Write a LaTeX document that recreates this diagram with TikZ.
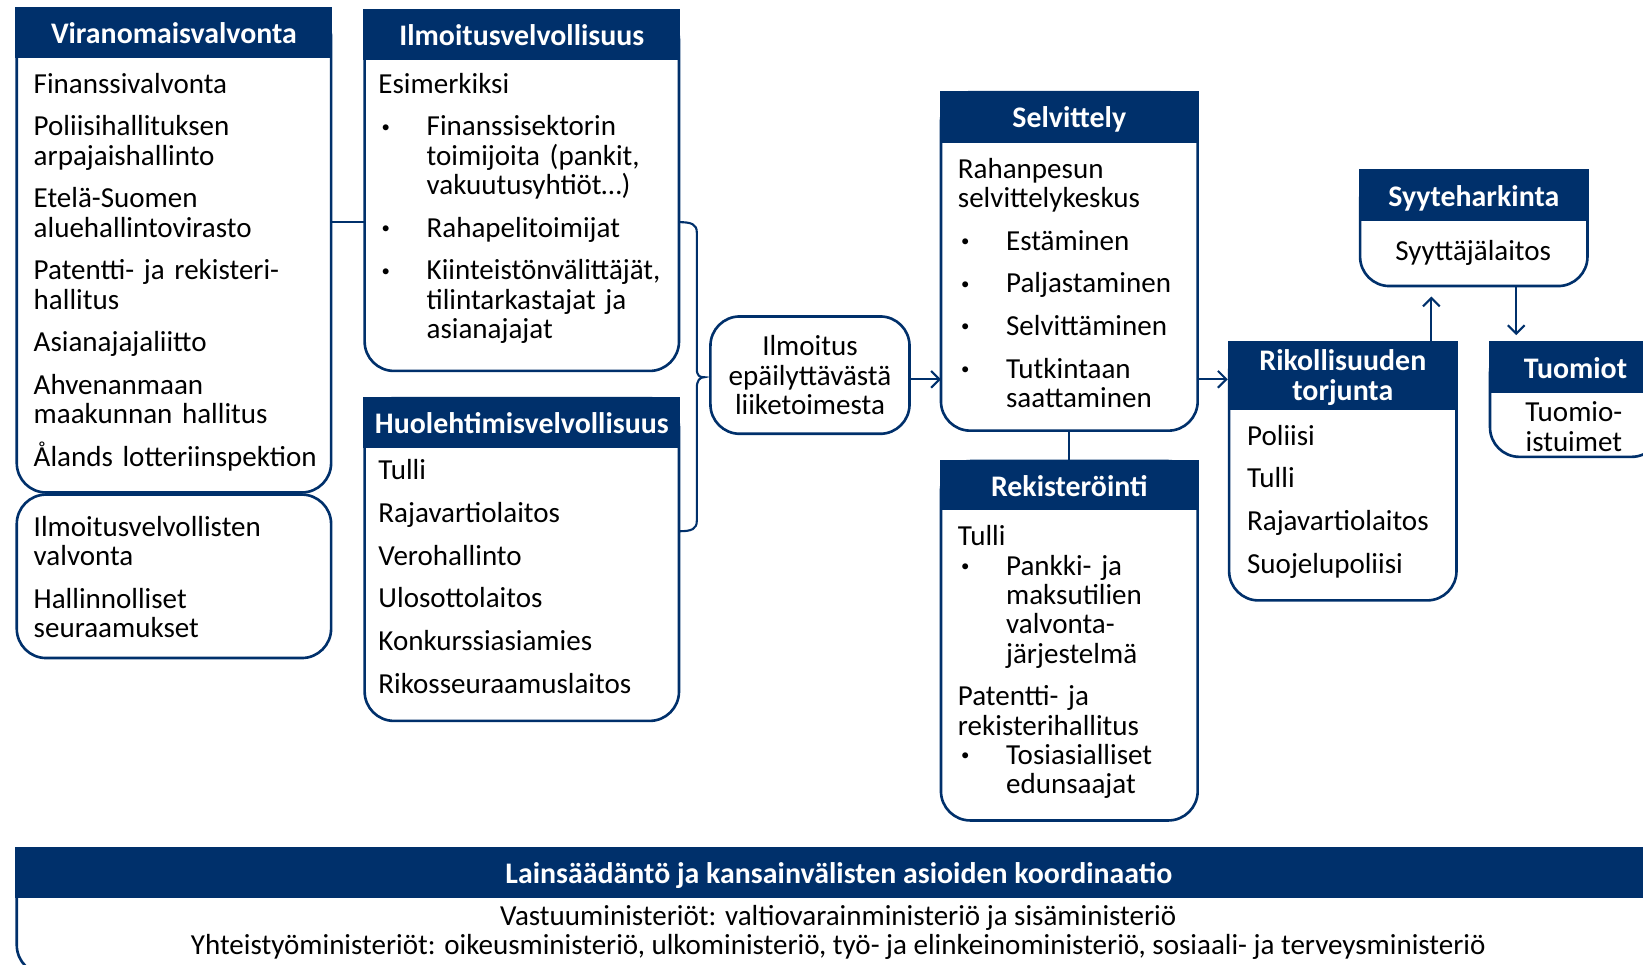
\documentclass[tikz,border=0pt]{standalone}
\usepackage{fontspec}
\setmainfont{Carlito}
\usetikzlibrary{arrows.meta,calc}
\definecolor{navy}{RGB}{0,48,107}
\newcommand\bodyfont{\fontsize{27.7}{28}\selectfont}
\newcommand\headfont{\bfseries\fontsize{28.5}{28}\selectfont}
\newcommand\ps{\setlength{\parskip}{12.7pt}\setlength{\parindent}{0pt}}
\newcommand\bi{\hangindent=46pt\hangafter=1\makebox[46pt][l]{\hspace{3pt}\raisebox{3.5pt}{\fontsize{16}{16}\selectfont •}}}
\tikzset{
  body/.style={draw=navy, line width=2.5pt, rounded corners=28pt, fill=white,
    inner sep=0pt, outer sep=0pt, anchor=north west},
  head/.style={fill=navy, text=white, font=\headfont, inner sep=0pt, outer sep=0pt,
    anchor=north west, align=center, text height=21pt, text depth=0pt},
  txt/.style={anchor=base west, inner sep=0pt, text width=420pt, align=left,
    font=\bodyfont, execute at begin node=\ps},
  ctxt/.style={inner sep=0pt, align=center, font=\bodyfont},
  conn/.style={draw=navy, line width=2pt},
  arr/.style={conn, -{Straight Barb[length=8pt,width=16pt]}}
}
% [extra header style] name, x1, ytop, x2, yhead, ybottom, header text
\newcommand\mkbox[8][]{%
  \node[body, minimum width={#5-#3}, minimum height={#7-#4}] (#2) at (#3,#4) {};
  \node[head, minimum width={#5-#3+2.5}, minimum height={#6-#4+1.25}, #1] (#2h) at ({#3-1.25},{#4-1.25}) {#8};
}
\begin{document}
\begin{tikzpicture}[x=1pt,y=-1pt]
\useasboundingbox (0,0) rectangle (1568,920);
\clip (0,0) rectangle (1568,920);

% boxes
\mkbox{A}{16}{8}{316}{55}{470}{Viranomaisvalvonta}
\node[body, minimum width=300, minimum height=156] (A2) at (16,472) {};
\mkbox{B}{348}{10}{648}{57}{354}{Ilmoitusvelvollisuus}
\mkbox{C}{348}{380}{648}{428}{688}{Huolehtimisvelvollisuus}
\node[body, anchor=center, minimum width=190, minimum height=112, align=center, font=\bodyfont] (D) at (773,358) {Ilmoitus\\epäilyttävästä\\liiketoimesta};
\mkbox{E}{898}{88}{1143}{136}{411}{Selvittely}
\mkbox{F}{898}{440}{1143}{487}{783}{Rekisteröinti}
\mkbox[text height=47pt]{G}{1173}{327}{1390}{391}{573}{Rikollisuuden\\torjunta}
\mkbox{H}{1298}{163}{1515}{211}{273}{Syyteharkinta}
\mkbox{I}{1422}{327}{1585}{375}{436}{Tuomiot}
\mkbox{J}{16}{810}{1585}{857}{930}{Lainsäädäntö ja kansainvälisten asioiden koordinaatio}

% texts
\node[txt] (At) at (32,89) {Finanssivalvonta\par
Poliisihallituksen\newline arpajaishallinto\par
Etelä-Suomen\newline aluehallintovirasto\par
Patentti- ja rekisteri-\newline hallitus\par
Asianajajaliitto\par
Ahvenanmaan\newline maakunnan hallitus\par
Ålands lotteriinspektion\par};
\node[txt] (A2t) at (32,512) {Ilmoitusvelvollisten\newline valvonta\par
Hallinnolliset\newline seuraamukset\par};
\node[txt] (Bt) at (361,89) {Esimerkiksi\par
\bi Finanssisektorin\newline toimijoita (pankit,\newline vakuutusyhtiöt…)\par
\bi Rahapelitoimijat\par
\bi Kiinteistönvälittäjät,\newline tilintarkastajat ja\newline asianajajat\par};
\node[txt] (Ct) at (361,458) {Tulli\par Rajavartiolaitos\par Verohallinto\par Ulosottolaitos\par Konkurssiasiamies\par Rikosseuraamuslaitos\par};
\node[txt] (Et) at (914,170) {Rahanpesun\newline selvittelykeskus\par
\bi Estäminen\par
\bi Paljastaminen\par
\bi Selvittäminen\par
\bi Tutkintaan\newline saattaminen\par};
\node[txt] (Ft) at (914,521) {Tulli\par\vspace{-12.7pt}
\bi Pankki- ja\newline maksutilien\newline valvonta-\newline järjestelmä\par
Patentti- ja\newline rekisterihallitus\par\vspace{-12.7pt}
\bi Tosiasialliset\newline edunsaajat\par};
\node[txt] (Gt) at (1190,425) {Poliisi\par Tulli\par Rajavartiolaitos\par Suojelupoliisi\par};
\node[ctxt, anchor=base] (Ht) at (1406,249) {Syyttäjälaitos};
\node[ctxt] (It) at (1502,407) {Tuomio-\\istuimet};
\node[ctxt] (Jt) at (800,890) {Vastuuministeriöt: valtiovarainministeriö ja sisäministeriö\\
Yhteistyöministeriöt: oikeusministeriö, ulkoministeriö, työ- ja elinkeinoministeriö, sosiaali- ja terveysministeriö};

% connectors
\coordinate (k1) at (0,212);
\coordinate (k2) at (0,507);
\draw[conn] (A.east |- k1) -- (B.west |- k1);
\coordinate (bt) at (B.east |- k1);
\coordinate (bb) at (C.east |- k2);
\coordinate (btip) at ($(D.west)+(-6,2)$);
\draw[conn] (bt) .. controls (660,212) and (665,214) .. (665,222) -- (665,352)
  .. controls (665,359) and (668,360) .. (btip)
  .. controls (668,360) and (665,363) .. (665,370) -- (665,497)
  .. controls (665,505) and (660,507) .. (bb);
\coordinate (ya) at (0,362);
\draw[arr] (D.east |- ya) -- (E.west |- ya);
\draw[conn] (E.south) -- (Fh.north);
\draw[arr] (E.east |- ya) -- (Gh.west |- ya);
\coordinate (x1) at (1366,0);
\coordinate (x2) at (1447,0);
\draw[arr] (x1 |- Gh.north) -- ($(x1 |- H.south)+(0,10)$);
\draw[arr] (x2 |- H.south) -- ($(x2 |- Ih.north)+(0,-6)$);
\end{tikzpicture}
\end{document}
